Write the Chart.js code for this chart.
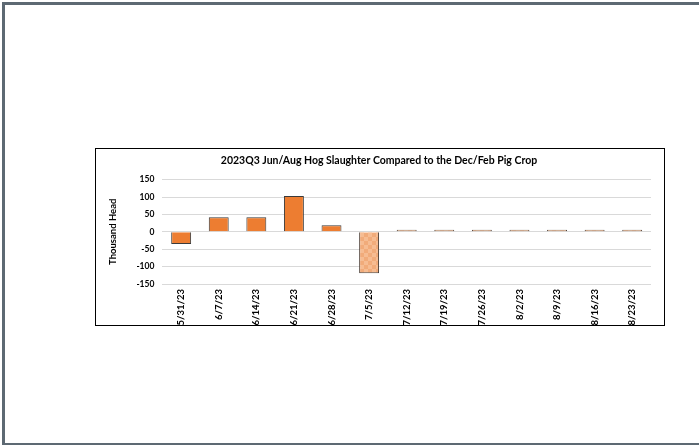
<!DOCTYPE html>
<html>
<head>
<meta charset="utf-8">
<script src="https://cdn.jsdelivr.net/npm/chart.js@4/dist/chart.umd.min.js"></script>
<style>
  body { margin: 0; background: #fff; }
  #frame {
    position: absolute; left: 2px; top: 2px; width: 720px; height: 438px;
    border-top: 3px solid #5d6973; border-left: 3px solid #5d6973; border-bottom: 2px solid #5d6973;
  }
  #box {
    position: absolute; left: 95px; top: 148px; width: 568px; height: 176px;
    border: 1px solid #000; background: #fff;
  }
</style>
</head>
<body>
<div id="frame"></div>
<div id="box"><canvas id="chart" width="568" height="176"></canvas></div>
<script>
// week ending dates
const weeks = ["5/31/23", "6/7/23", "6/14/23", "6/21/23", "6/28/23", "7/5/23", "7/12/23",
  "7/19/23", "7/26/23", "8/2/23", "8/9/23", "8/16/23", "8/23/23"];
// actual slaughter vs pig crop, thousand head
const actualDiff = [-35, 42, 42, 103, 19, null, null, null, null, null, null, null, null];
// projected weeks
const projectedDiff = [null, null, null, null, null, -119, 6, 6, 6, 6, 6, 6, 6];
const yTicks = [-150, -100, -50, 0, 50, 100, 150];

// checkered fill for projected bars
function checker() {
  const c = document.createElement("canvas");
  c.width = 8; c.height = 8;
  const g = c.getContext("2d");
  g.fillStyle = "#f6bc92";
  g.fillRect(0, 0, 8, 8);
  g.fillStyle = "#f1ab7a";
  g.fillRect(0, 0, 4, 4);
  g.fillRect(4, 4, 4, 4);
  return g.createPattern(c, "repeat");
}

const font = "Lato, 'Open Sans', sans-serif";

new Chart(document.getElementById("chart"), {
  type: "bar",
  data: {
    labels: weeks,
    datasets: [{
      label: "Actual",
      data: actualDiff,
      backgroundColor: "#ed7d31",
      borderColor: "#3a3a3a",
      borderWidth: 1,
      grouped: false,
      categoryPercentage: 1,
      barPercentage: 0.53
    }, {
      label: "Projected",
      data: projectedDiff,
      backgroundColor: checker(),
      borderColor: "#4a3e36",
      borderWidth: 1,
      grouped: false,
      categoryPercentage: 1,
      barPercentage: 0.53
    }]
  },
  options: {
    responsive: false,
    animation: false,
    layout: { padding: { left: 11, right: 13, top: 5, bottom: 0 } },
    plugins: {
      legend: { display: false },
      tooltip: { enabled: false },
      title: {
        display: true,
        text: "2023Q3 Jun/Aug Hog Slaughter Compared to the Dec/Feb Pig Crop",
        color: "#000",
        font: { family: font, size: 10.5, weight: "bold" },
        padding: { top: 0, bottom: 13 }
      }
    },
    scales: {
      x: {
        grid: { display: false, drawTicks: false },
        border: { display: false },
        ticks: {
          color: "#000",
          font: { family: font, size: 9.5, weight: "bold" },
          minRotation: 90, maxRotation: 90, autoSkip: false, padding: 5
        },
        afterFit: (axis) => { axis.height = 41; }
      },
      y: {
        min: -150, max: 150,
        afterBuildTicks: (axis) => { axis.ticks = yTicks.map(v => ({ value: v })); },
        grid: { color: "#d9d9d9", drawTicks: false },
        border: { display: false },
        ticks: {
          color: "#000",
          font: { family: font, size: 8.5, weight: "bold" },
          padding: 8
        },
        title: {
          display: true,
          text: "Thousand Head",
          color: "#000",
          font: { family: font, size: 9.5, weight: "bold" },
          padding: { top: 0, bottom: 10 }
        }
      }
    }
  }
});
</script>
</body>
</html>
